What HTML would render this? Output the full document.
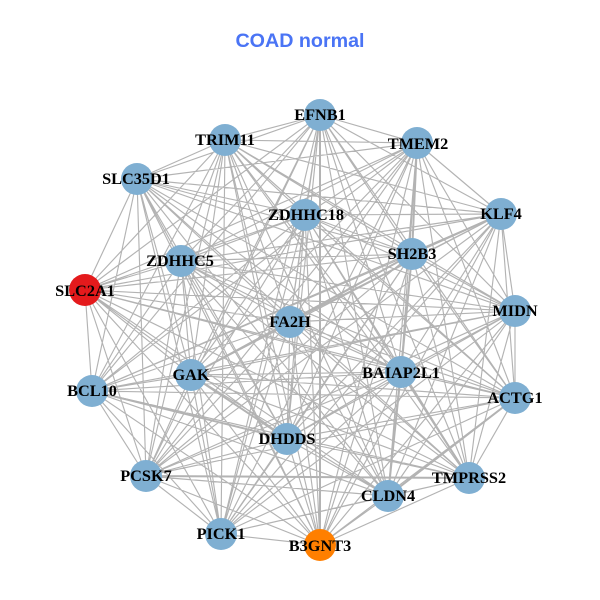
<!DOCTYPE html>
<html><head><meta charset="utf-8"><style>html,body{margin:0;padding:0;background:#fff}svg{display:block}</style></head><body>
<svg xmlns="http://www.w3.org/2000/svg" width="600" height="600" viewBox="0 0 600 600">
<rect width="600" height="600" fill="#fff"/>
<text x="300" y="47" text-anchor="middle" font-family="'Liberation Sans',sans-serif" font-weight="bold" font-size="19.7" fill="#4a74f5">COAD normal</text>
<path fill="none" stroke="#b3b3b3" stroke-width="1.15" d="
M320 115L417 143M320 115L501 214M320 115L515 311M320 115L515 398M320 115L469 478M320 115L388 496M320 115L320 545M320 115L221 534M320 115L146 476M320 115L92 391M320 115L85 290M320 115L137 179M320 115L225 140M320 115L305 215M320 115L412 254M320 115L401 372M320 115L287 439M320 115L191 375M320 115L181 261M320 115L290 322
M417 143L501 214M417 143L515 311M417 143L515 398M417 143L469 478M417 143L388 496M417 143L320 545M417 143L221 534M417 143L146 476M417 143L92 391M417 143L85 290M417 143L137 179M417 143L225 140M417 143L305 215M417 143L401 372M417 143L287 439M417 143L191 375M417 143L181 261M417 143L290 322
M501 214L515 311M501 214L515 398M501 214L469 478M501 214L388 496M501 214L320 545M501 214L221 534M501 214L146 476M501 214L92 391M501 214L85 290M501 214L137 179M501 214L225 140M501 214L305 215M501 214L401 372M501 214L287 439M501 214L191 375M501 214L181 261M501 214L290 322
M515 311L515 398M515 311L469 478M515 311L388 496M515 311L320 545M515 311L221 534M515 311L146 476M515 311L92 391M515 311L85 290M515 311L137 179M515 311L225 140M515 311L305 215M515 311L412 254M515 311L401 372M515 311L287 439M515 311L191 375M515 311L181 261M515 311L290 322
M515 398L469 478M515 398L388 496M515 398L320 545M515 398L221 534M515 398L146 476M515 398L92 391M515 398L85 290M515 398L137 179M515 398L225 140M515 398L305 215M515 398L412 254M515 398L401 372M515 398L287 439M515 398L191 375M515 398L181 261M515 398L290 322
M469 478L388 496M469 478L320 545M469 478L221 534M469 478L146 476M469 478L92 391M469 478L85 290M469 478L137 179M469 478L225 140M469 478L305 215M469 478L412 254M469 478L401 372M469 478L287 439M469 478L191 375M469 478L181 261M469 478L290 322
M388 496L320 545M388 496L221 534M388 496L146 476M388 496L92 391M388 496L85 290M388 496L137 179M388 496L225 140M388 496L305 215M388 496L412 254M388 496L287 439M388 496L191 375M388 496L181 261M388 496L290 322
M320 545L221 534M320 545L146 476M320 545L92 391M320 545L85 290M320 545L137 179M320 545L225 140M320 545L305 215M320 545L412 254M320 545L401 372M320 545L287 439M320 545L191 375M320 545L181 261M320 545L290 322
M221 534L146 476M221 534L92 391M221 534L85 290M221 534L137 179M221 534L225 140M221 534L305 215M221 534L412 254M221 534L401 372M221 534L287 439M221 534L191 375M221 534L181 261M221 534L290 322
M146 476L92 391M146 476L85 290M146 476L137 179M146 476L225 140M146 476L305 215M146 476L412 254M146 476L401 372M146 476L287 439M146 476L191 375M146 476L181 261M146 476L290 322
M92 391L85 290M92 391L137 179M92 391L225 140M92 391L305 215M92 391L412 254M92 391L401 372M92 391L287 439M92 391L191 375M92 391L181 261M92 391L290 322
M85 290L137 179M85 290L225 140M85 290L305 215M85 290L412 254M85 290L401 372M85 290L287 439M85 290L191 375M85 290L181 261M85 290L290 322
M137 179L225 140M137 179L305 215M137 179L412 254M137 179L401 372M137 179L287 439M137 179L191 375M137 179L181 261M137 179L290 322
M225 140L305 215M225 140L412 254M225 140L401 372M225 140L287 439M225 140L191 375M225 140L181 261M225 140L290 322
M305 215L412 254M305 215L401 372M305 215L287 439M305 215L191 375M305 215L181 261M305 215L290 322
M412 254L287 439M412 254L191 375M412 254L181 261
M401 372L287 439M401 372L191 375M401 372L181 261M401 372L290 322
M287 439L191 375M287 439L181 261M287 439L290 322
M191 375L181 261
M181 261L290 322"/>
<path fill="none" stroke="#b3b3b3" stroke-width="2" d="M417 143L412 254M501 214L412 254M412 254L401 372M412 254L290 322M401 372L388 496M191 375L290 322M388 496L515 398M191 375L287 439M92 391L287 439M469 478L401 372M320 115L320 545M469 478L146 476"/>
<g fill="#7fafd2">
<circle cx="320" cy="115" r="16"/><circle cx="417" cy="143" r="16"/><circle cx="501" cy="214" r="16"/><circle cx="515" cy="311" r="16"/><circle cx="515" cy="398" r="16"/><circle cx="469" cy="478" r="16"/><circle cx="388" cy="496" r="16"/><circle cx="221" cy="534" r="16"/><circle cx="146" cy="476" r="16"/><circle cx="92" cy="391" r="16"/><circle cx="137" cy="179" r="16"/><circle cx="225" cy="140" r="16"/><circle cx="305" cy="215" r="16"/><circle cx="412" cy="254" r="16"/><circle cx="401" cy="372" r="16"/><circle cx="287" cy="439" r="16"/><circle cx="191" cy="375" r="16"/><circle cx="181" cy="261" r="16"/><circle cx="290" cy="322" r="16"/>
</g>
<circle cx="85" cy="290" r="16" fill="#e41a1c"/>
<circle cx="320" cy="545" r="16" fill="#ff7f00"/>
<g font-family="'Liberation Serif',serif" font-weight="bold" font-size="16.3" fill="#000" text-anchor="middle">
<text x="320" y="120">EFNB1</text><text x="418" y="149">TMEM2</text><text x="501" y="219">KLF4</text><text x="515" y="316">MIDN</text><text x="515" y="403">ACTG1</text><text x="469" y="483">TMPRSS2</text><text x="388" y="501">CLDN4</text><text x="320" y="551">B3GNT3</text><text x="221" y="539">PICK1</text><text x="146" y="481">PCSK7</text><text x="92" y="396">BCL10</text><text x="85" y="296">SLC2A1</text><text x="136" y="184">SLC35D1</text><text x="225" y="145">TRIM11</text><text x="306" y="220">ZDHHC18</text><text x="412" y="259">SH2B3</text><text x="401" y="378">BAIAP2L1</text><text x="287" y="444">DHDDS</text><text x="191" y="380">GAK</text><text x="180" y="266">ZDHHC5</text><text x="290" y="327">FA2H</text>
</g>
</svg>
</body></html>
